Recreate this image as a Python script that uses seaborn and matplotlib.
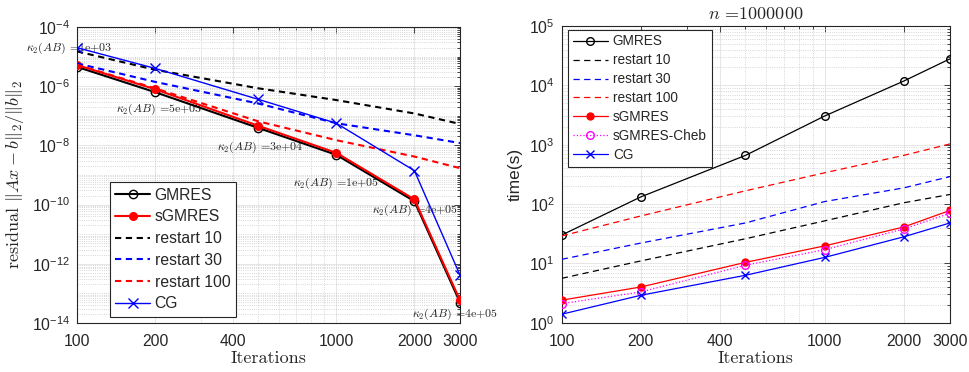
import matplotlib
matplotlib.use('Agg')
import matplotlib.pyplot as plt
import matplotlib.ticker as mticker
import seaborn as sns
import numpy as np

# iteration counts (shared x values)
iters = [100, 200, 500, 1000, 2000, 3000]

# left panel: relative residual
res_gmres = [4.5e-6, 6.3e-7, 3.9e-8, 4.8e-9, 1.3e-10, 4.9e-14]
res_sgmres = [5.2e-6, 7.9e-7, 4.6e-8, 5.6e-9, 1.5e-10, 5.8e-14]
res_restart10 = [1.5e-5, 3.6e-6, 8.5e-7, 3.4e-7, 1.2e-7, 5.3e-8]
res_restart30 = [5.9e-6, 1.4e-6, 2.6e-7, 5.6e-8, 2.2e-8, 1.2e-8]
res_restart100 = [5.3e-6, 8.5e-7, 6.5e-8, 1.5e-8, 4.2e-9, 1.7e-9]
res_cg = [2.0e-5, 4.0e-6, 3.6e-7, 5.6e-8, 1.4e-9, 4.1e-13]

# condition number labels and where they sit
kappa_labels = ['1e+03', '5e+03', '3e+04', '1e+05', '4e+05', '4e+05']
kappa_x = [93, 207, 508, 998, 2005, 2870]
kappa_y = [1.95e-5, 1.6e-7, 8.9e-9, 5.2e-10, 6.2e-11, 2.0e-14]

# right panel: time in seconds
t_gmres = [30, 132, 660, 3040, 1.18e4, 2.8e4]
t_restart10 = [5.6, 11, 26, 52, 105, 145]
t_restart30 = [11.7, 22, 48, 110, 187, 290]
t_restart100 = [29, 63, 167, 336, 660, 1030]
t_sgmres = [2.4, 4.0, 10.4, 19.7, 41, 78]
t_cheb = [2.1, 3.3, 9.3, 17, 38, 70]
t_cg = [1.39, 2.9, 6.3, 12.6, 28, 48]

sns.set_theme(style='whitegrid')
plt.rcParams['font.family'] = ['Liberation Sans', 'DejaVu Sans']
plt.rcParams['mathtext.fontset'] = 'cm'
plt.rcParams['axes.unicode_minus'] = True

AX = '#262626'
xticks = [100, 200, 400, 1000, 2000, 3000]


def style_axes(ax, ymin, ymax, ymajor):
    ax.set_xscale('log')
    ax.set_yscale('log')
    ax.set_xlim(100, 3000)
    ax.set_ylim(ymin, ymax)
    ax.set_facecolor('white')
    ax.xaxis.set_major_locator(mticker.FixedLocator(xticks))
    ax.xaxis.set_major_formatter(mticker.FixedFormatter([str(v) for v in xticks]))
    ax.xaxis.set_minor_locator(mticker.FixedLocator([300, 500, 600, 700, 800, 900]))
    ax.xaxis.set_minor_formatter(mticker.NullFormatter())
    ax.yaxis.set_major_locator(mticker.FixedLocator(ymajor))
    ax.yaxis.set_major_formatter(mticker.LogFormatterSciNotation())
    lo, hi = int(np.log10(ymin)), int(np.log10(ymax))
    minors = [m * 10.0 ** e for e in range(lo, hi) for m in range(1, 10)
              if not (m == 1 and 10.0 ** e in ymajor)]
    ax.yaxis.set_minor_locator(mticker.FixedLocator(minors))
    ax.yaxis.set_minor_formatter(mticker.NullFormatter())
    ax.grid(True, which='major', color='#e2e2e2', linestyle='-', linewidth=0.6)
    ax.grid(True, which='minor', color='#c8c8c8', linestyle=':', linewidth=0.6)
    ax.set_axisbelow(True)
    for s in ax.spines.values():
        s.set_color(AX)
        s.set_linewidth(0.8)
    ax.tick_params(which='both', direction='in', top=True, right=True,
                   colors=AX, labelcolor=AX, labelsize=11.3, width=0.6)
    ax.tick_params(which='major', length=4)
    ax.tick_params(which='minor', length=2)
    ax.tick_params(axis='x', pad=8)
    ax.tick_params(axis='y', pad=5)


def draw(ax, y, label, color, ls='-', marker=None, mfc=None, lw=1.0, ms=6):
    sns.lineplot(x=iters, y=y, ax=ax, label=label, color=color, linestyle=ls,
                 marker=marker, markersize=ms, linewidth=lw,
                 markerfacecolor=mfc if mfc else color, markeredgecolor=color,
                 markeredgewidth=1.0, zorder=3)


fig = plt.figure(figsize=(9.69, 3.72), dpi=100)
ax1 = fig.add_axes([0.0795, 0.1317, 0.3953, 0.7957])
ax2 = fig.add_axes([0.5797, 0.1325, 0.4007, 0.7976])

# left panel
style_axes(ax1, 1e-14, 1e-4, [1e-14, 1e-12, 1e-10, 1e-8, 1e-6, 1e-4])
draw(ax1, res_gmres, 'GMRES', 'black', marker='o', mfc='none', lw=1.5)
draw(ax1, res_sgmres, 'sGMRES', 'red', marker='o', lw=1.5, ms=5.5)
draw(ax1, res_restart10, 'restart 10', 'black', ls=(0, (3, 2.2)), lw=1.5)
draw(ax1, res_restart30, 'restart 30', 'blue', ls=(0, (3, 2.2)), lw=1.5)
draw(ax1, res_restart100, 'restart 100', 'red', ls=(0, (3, 2.2)), lw=1.5)
draw(ax1, res_cg, 'CG', 'blue', marker='x', lw=1.0, ms=7)

for xv, yv, lab in zip(kappa_x, kappa_y, kappa_labels):
    ax1.text(xv, yv, r'$\kappa_2(AB)$ =' + lab, ha='center', va='center',
             fontsize=8.6, family='cmr10', color='#262626', zorder=2, clip_on=False)

ax1.set_xlabel('Iterations', family='cmr10', fontsize=13, color=AX, labelpad=1)
ax1.set_ylabel(r'residual $\|Ax-b\|_2/\|b\|_2$', family='cmr10', fontsize=13,
               color=AX, labelpad=4)
leg1 = ax1.legend(loc='lower left', bbox_to_anchor=(0.086, 0.021), fontsize=11.3,
                  handlelength=2.2, handletextpad=0.3, labelspacing=0.43,
                  borderpad=0.35, borderaxespad=0, frameon=True, fancybox=False,
                  framealpha=1)
leg1.get_frame().set_edgecolor(AX)
leg1.get_frame().set_linewidth(0.8)

# right panel
style_axes(ax2, 1, 1e5, [1, 10, 100, 1e3, 1e4, 1e5])
draw(ax2, t_gmres, 'GMRES', 'black', marker='o', mfc='none', lw=0.9, ms=5.5)
draw(ax2, t_restart10, 'restart 10', 'black', ls=(0, (5, 3.5)), lw=0.9)
draw(ax2, t_restart30, 'restart 30', 'blue', ls=(0, (5, 3.5)), lw=0.9)
draw(ax2, t_restart100, 'restart 100', 'red', ls=(0, (5, 3.5)), lw=0.9)
draw(ax2, t_sgmres, 'sGMRES', 'red', marker='o', lw=0.9, ms=5)
draw(ax2, t_cheb, 'sGMRES-Cheb', 'magenta', ls=':', marker='o', mfc='none', lw=0.9, ms=5.5)
draw(ax2, t_cg, 'CG', 'blue', marker='x', lw=0.9, ms=6)

ax2.set_title(r'$n$ =1000000', family='cmr10', fontsize=13, color=AX, pad=5)
ax2.set_xlabel('Iterations', family='cmr10', fontsize=13, color=AX, labelpad=1)
ax2.set_ylabel('time(s)', fontsize=12.5, color=AX, labelpad=5)
leg2 = ax2.legend(loc='upper left', bbox_to_anchor=(0.016, 0.9875), fontsize=9.8,
                  handlelength=2.6, handletextpad=0.35, labelspacing=0.36,
                  borderpad=0.35, borderaxespad=0, frameon=True, fancybox=False,
                  framealpha=1)
leg2.get_frame().set_edgecolor(AX)
leg2.get_frame().set_linewidth(0.8)

fig.savefig('out.png', dpi=100)
